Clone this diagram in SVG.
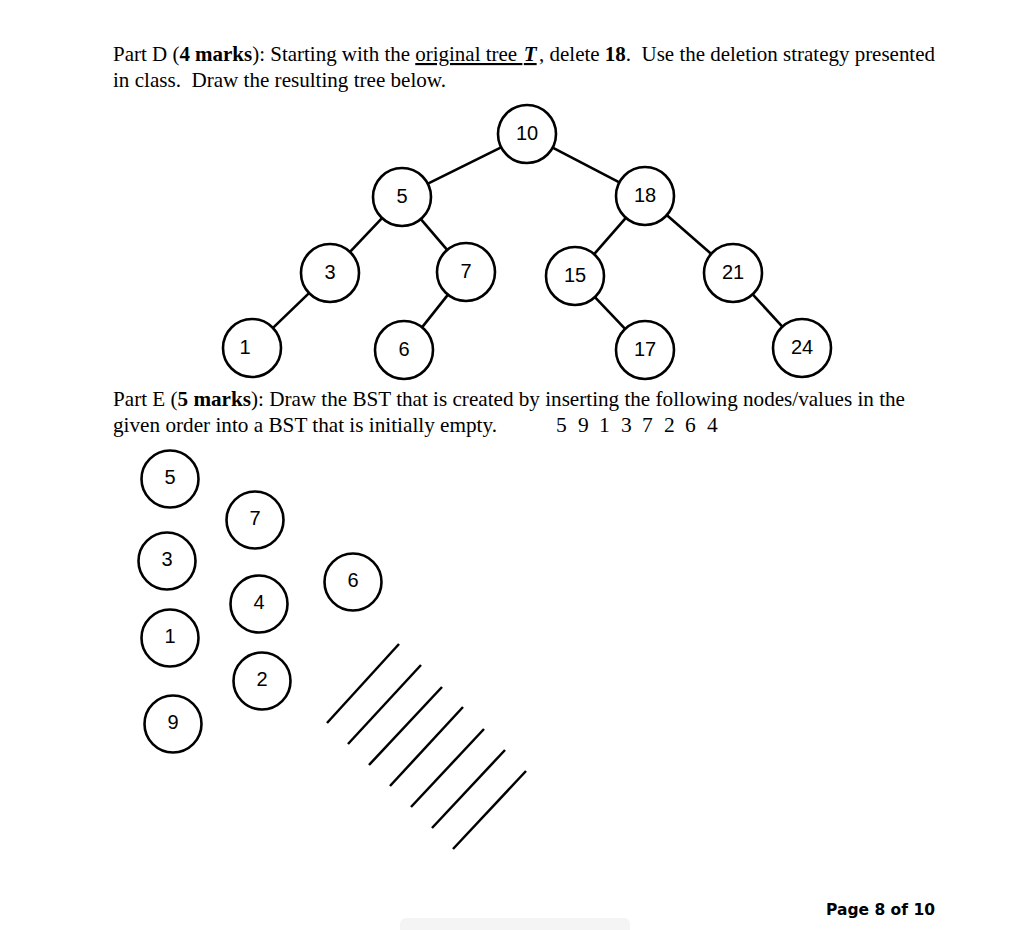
<svg xmlns="http://www.w3.org/2000/svg" width="1024" height="930" viewBox="0 0 1024 930">
<style>
.t{font-family:"Liberation Serif","Times New Roman",serif;font-size:21.5px;fill:#000}
.b{font-weight:bold}
.n circle{fill:#fff;stroke:#000;stroke-width:2.6}
.n text{font-family:"Liberation Sans",Arial,sans-serif;font-size:20px;text-anchor:middle;fill:#000}
.e line{stroke:#000;stroke-width:2.6}
.h line{stroke:#000;stroke-width:2.5}
</style>
<rect width="1024" height="930" fill="#fff"/>
<text class="t" x="113" y="61" textLength="822" lengthAdjust="spacingAndGlyphs" xml:space="preserve">Part D (<tspan class="b">4 marks</tspan>): Starting with the <tspan text-decoration="underline">original tree </tspan><tspan class="b" font-style="italic" text-decoration="underline" dx="1.5">T</tspan><tspan dx="2.5">, delete </tspan><tspan class="b">18</tspan>.  Use the deletion strategy presented</text>
<text class="t" x="113" y="87" textLength="333" lengthAdjust="spacingAndGlyphs" xml:space="preserve">in class.  Draw the resulting tree below.</text>
<text class="t" x="113" y="406" textLength="792" lengthAdjust="spacingAndGlyphs" xml:space="preserve">Part E (<tspan class="b">5 marks</tspan>): Draw the BST that is created by inserting the following nodes/values in the</text>
<text class="t" x="113" y="432" textLength="384" lengthAdjust="spacingAndGlyphs" xml:space="preserve">given order into a BST that is initially empty.</text>
<text class="t" x="556 578 599 621 642 664 685 707" y="432">59137264</text>
<g class="e" id="connectors">
<line x1="502.1" y1="146.8" x2="426.9" y2="184.2"/>
<line x1="551.7" y1="147.2" x2="620.3" y2="182.8"/>
<line x1="382.7" y1="217.3" x2="349.3" y2="252.7"/>
<line x1="420.2" y1="218.3" x2="447.8" y2="250.7"/>
<line x1="626.5" y1="217.1" x2="593.5" y2="254.9"/>
<line x1="666.1" y1="214.5" x2="711.9" y2="254.5"/>
<line x1="309.8" y1="292.4" x2="272.2" y2="328.6"/>
<line x1="448.6" y1="293.9" x2="421.4" y2="328.1"/>
<line x1="594.2" y1="296.3" x2="625.8" y2="329.7"/>
<line x1="752" y1="293.6" x2="783" y2="327.4"/>
</g>
<g class="n" id="n10"><circle cx="527" cy="134" r="29"/><text x="527" y="140">10</text></g>
<g class="n" id="n5"><circle cx="402" cy="197" r="29"/><text x="402" y="203">5</text></g>
<g class="n" id="n18"><circle cx="645" cy="196" r="29"/><text x="645" y="202">18</text></g>
<g class="n" id="n3"><circle cx="330" cy="273" r="29"/><text x="330" y="279">3</text></g>
<g class="n" id="n7"><circle cx="466" cy="272" r="29"/><text x="466" y="278">7</text></g>
<g class="n" id="n15"><circle cx="575" cy="276" r="29"/><text x="575" y="282">15</text></g>
<g class="n" id="n21"><circle cx="733" cy="273" r="29"/><text x="733" y="279">21</text></g>
<g class="n" id="n1"><circle cx="252" cy="348" r="29"/><text x="245" y="354">1</text></g>
<g class="n" id="n6"><circle cx="404" cy="350" r="29"/><text x="404" y="356">6</text></g>
<g class="n" id="n17"><circle cx="645" cy="350" r="29"/><text x="645" y="356">17</text></g>
<g class="n" id="n24"><circle cx="802" cy="348" r="29"/><text x="802" y="354">24</text></g>
<g class="n" id="e5"><circle cx="170" cy="479" r="28.5"/><text x="170" y="484">5</text></g>
<g class="n" id="e7"><circle cx="255" cy="520" r="28.5"/><text x="255" y="525">7</text></g>
<g class="n" id="e3"><circle cx="167" cy="561" r="28.5"/><text x="167" y="566">3</text></g>
<g class="n" id="e4"><circle cx="259" cy="604" r="28.5"/><text x="259" y="609">4</text></g>
<g class="n" id="e6"><circle cx="353" cy="582" r="28.5"/><text x="353" y="587">6</text></g>
<g class="n" id="e1"><circle cx="170" cy="638" r="28.5"/><text x="170" y="643">1</text></g>
<g class="n" id="e2"><circle cx="262" cy="681" r="28.5"/><text x="262" y="686">2</text></g>
<g class="n" id="e9"><circle cx="173" cy="724" r="28.5"/><text x="173" y="729">9</text></g>
<g class="h" id="hatch">
<line x1="399" y1="644" x2="327" y2="723"/>
<line x1="421" y1="665" x2="348" y2="744"/>
<line x1="442" y1="687" x2="369" y2="765"/>
<line x1="463" y1="707" x2="390" y2="786"/>
<line x1="484" y1="729" x2="411" y2="807"/>
<line x1="505" y1="750" x2="432" y2="828"/>
<line x1="526" y1="771" x2="453" y2="849"/>
</g>
<text x="826" y="915" font-family="DejaVu Sans, sans-serif" font-weight="bold" font-size="15.5" fill="#000">Page 8 of 10</text>
<rect x="400" y="918" width="230" height="20" rx="6" fill="#f4f4f4"/>
</svg>
